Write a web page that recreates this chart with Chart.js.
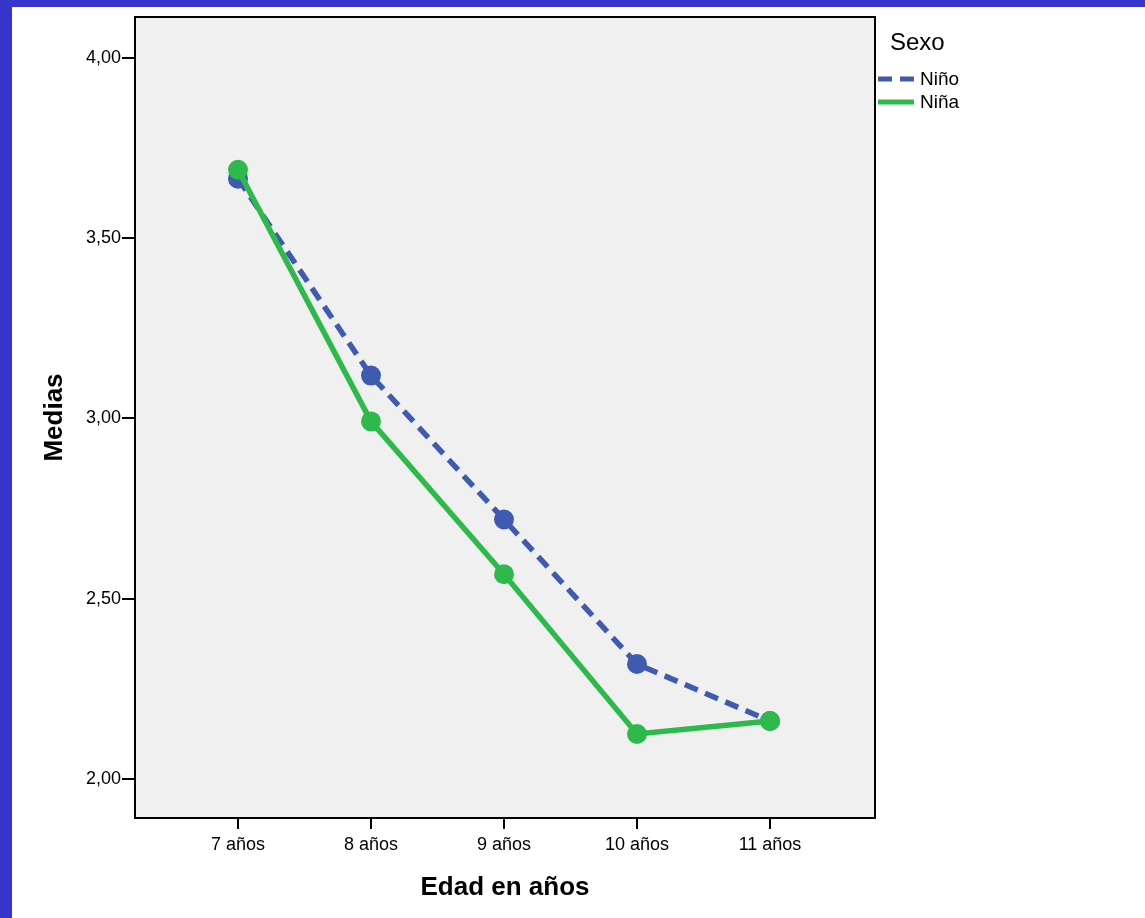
<!DOCTYPE html>
<html>
<head>
<meta charset="utf-8">
<script src="https://cdn.jsdelivr.net/npm/chart.js@4.4.1/dist/chart.umd.min.js"></script>
<style>
  html, body { margin: 0; padding: 0; background: #3535cc; }
  #wrap { position: absolute; left: 12px; top: 7px; width: 1133px; height: 911px; background: #fff; }
</style>
</head>
<body>
<div id="wrap"><canvas id="chart" width="1133" height="911"></canvas></div>
<script>
  // datos
  const ages = [7, 8, 9, 10, 11];
  const ageLabels = ['7 años', '8 años', '9 años', '10 años', '11 años'];
  const ninoValues = [3.665, 3.119, 2.720, 2.319, 2.161];
  const ninaValues = [3.690, 2.992, 2.568, 2.125, 2.161];
  const yTicks = [2.0, 2.5, 3.0, 3.5, 4.0];
  const seriesNames = ['Niño', 'Niña'];
  const legendTitle = 'Sexo';

  const BLUE = '#3f5bb0';
  const GREEN = '#2eb94b';
  const FONT = 'Liberation Sans, Arial, sans-serif';

  const toPoints = vals => vals.map((v, i) => ({ x: ages[i], y: v }));

  // fondo gris y marco del área de trazado
  const plotFrame = {
    id: 'plotFrame',
    beforeDatasetsDraw(chart) {
      const { ctx, chartArea: a } = chart;
      ctx.save();
      ctx.fillStyle = '#f0f0f0';
      ctx.fillRect(a.left, a.top, a.right - a.left, a.bottom - a.top);
      ctx.restore();
    },
    afterDatasetsDraw(chart) {
      const { ctx, chartArea: a } = chart;
      ctx.save();
      ctx.strokeStyle = '#000';
      ctx.lineWidth = 2;
      ctx.strokeRect(a.left, a.top, a.right - a.left, a.bottom - a.top);
      ctx.restore();
    }
  };

  // leyenda a la derecha como en SPSS
  const sideLegend = {
    id: 'sideLegend',
    afterDraw(chart) {
      const ctx = chart.ctx;
      ctx.save();
      ctx.fillStyle = '#000';
      ctx.textBaseline = 'middle';
      ctx.font = '24px ' + FONT;
      ctx.fillText(legendTitle, 878, 36);
      chart.data.datasets.forEach((ds, i) => {
        const y = 72 + i * 23;
        ctx.beginPath();
        ctx.strokeStyle = ds.borderColor;
        ctx.lineWidth = 5;
        ctx.setLineDash(ds.borderDash || []);
        ctx.moveTo(866, y);
        ctx.lineTo(902, y);
        ctx.stroke();
        ctx.setLineDash([]);
        ctx.font = '19px ' + FONT;
        ctx.fillText(ds.label, 908, y + 1);
      });
      ctx.restore();
    }
  };

  window.onload = () => {
    const ctx = document.getElementById('chart').getContext('2d');
    new Chart(ctx, {
      type: 'line',
      data: {
        datasets: [
          {
            label: seriesNames[0],
            data: toPoints(ninoValues),
            borderColor: BLUE,
            backgroundColor: BLUE,
            borderWidth: 5.5,
            borderDash: [14, 8],
            pointRadius: 10,
            pointBorderWidth: 0,
            pointBackgroundColor: BLUE,
            order: 2
          },
          {
            label: seriesNames[1],
            data: toPoints(ninaValues),
            borderColor: GREEN,
            backgroundColor: GREEN,
            borderWidth: 5.5,
            pointRadius: 10,
            pointBorderWidth: 0,
            pointBackgroundColor: GREEN,
            order: 1
          }
        ]
      },
      options: {
        responsive: false,
        animation: false,
        layout: { padding: { top: 9, right: 270, left: 0, bottom: 0 } },
        plugins: { legend: { display: false }, tooltip: { enabled: false } },
        scales: {
          x: {
            type: 'linear',
            min: 7 - 103 / 133,
            max: 11 + 105 / 133,
            afterBuildTicks: s => { s.ticks = ages.map(v => ({ value: v })); },
            afterFit: s => { s.height = 100; },
            grid: { drawOnChartArea: false, drawTicks: true, tickLength: 11, color: '#000', lineWidth: 2 },
            border: { display: true, color: '#000', width: 2 },
            ticks: {
              color: '#000',
              padding: 5,
              font: { family: FONT, size: 18 },
              callback: v => ageLabels[ages.indexOf(v)]
            },
            title: {
              display: true,
              text: 'Edad en años',
              color: '#000',
              font: { family: FONT, size: 26, weight: 'bold' },
              padding: { top: 0, bottom: 15 }
            }
          },
          y: {
            min: 2 - 39 / 361,
            max: 4 + 41 / 361,
            afterBuildTicks: s => { s.ticks = yTicks.map(v => ({ value: v })); },
            afterFit: s => { s.width = 123; },
            grid: { drawOnChartArea: false, drawTicks: true, tickLength: 13, color: '#000', lineWidth: 2 },
            border: { display: true, color: '#000', width: 2 },
            ticks: {
              color: '#000',
              padding: 1,
              font: { family: FONT, size: 18, lineHeight: 1 },
              callback: v => v.toFixed(2).replace('.', ',')
            },
            title: {
              display: true,
              text: 'Medias',
              color: '#000',
              font: { family: FONT, size: 26, weight: 'bold' },
              padding: { top: 27, bottom: 0 }
            }
          }
        }
      },
      plugins: [plotFrame, sideLegend]
    });
  };
</script>
</body>
</html>
